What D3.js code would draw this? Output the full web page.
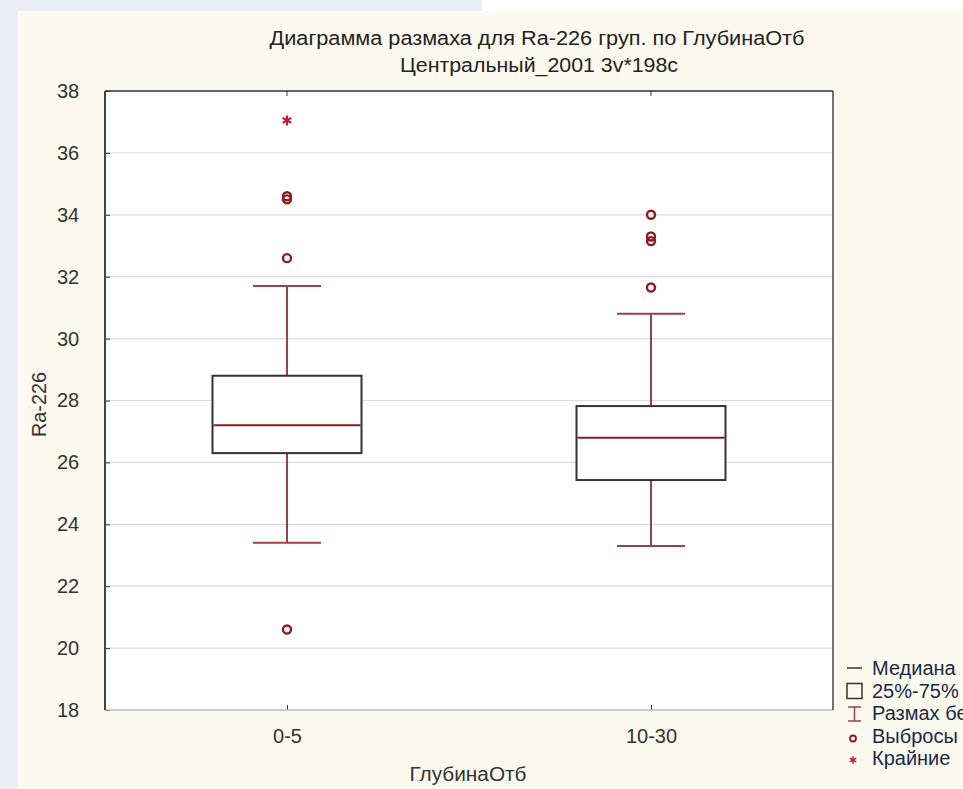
<!DOCTYPE html>
<html>
<head>
<meta charset="utf-8">
<script src="https://cdn.jsdelivr.net/npm/d3@7"></script>
<style>
  body { margin: 0; background: #e9edf4; overflow: hidden; }
  svg text { font-family: "Liberation Sans", Arial, sans-serif; fill: #222; }
</style>
</head>
<body>
<svg id="chart" width="963" height="789"></svg>
<script>
// values
const groups = ["0-5", "10-30"];
const q1 = [26.3, 25.43];
const median = [27.2, 26.8];
const q3 = [28.8, 27.82];
const whiskerLow = [23.4, 23.3];
const whiskerHigh = [31.7, 30.8];
const outliers = [[20.6, 32.6, 34.5, 34.6], [31.65, 33.15, 33.3, 34.0]];
const extremes = [[37.05], []];
const yTicks = [18, 20, 22, 24, 26, 28, 30, 32, 34, 36, 38];
const legendLabels = ["Медиана", "25%-75%", "Размах без выбросов", "Выбросы", "Крайние"];

const W = 963, H = 789;
const plotLeft = 105, plotRight = 833, plotTop = 91, plotBottom = 710;
const darkRed = "#8a1c24";
const whiskerColor = "#9a4048";
const textColor = "#333";

let svg = d3.select("#chart");

// panel
svg.append("rect").attr("x", 482).attr("y", 0).attr("width", W - 482).attr("height", 12).attr("fill", "#ffffff");
svg.append("rect").attr("x", 18).attr("y", 11).attr("width", W - 18).attr("height", H - 11).attr("fill", "#fcf9ef");

let x = d3.scalePoint().domain(groups).range([plotLeft, plotRight]).padding(0.5);
let y = d3.scaleLinear().domain([18, 38]).range([plotBottom, plotTop]);

svg.append("rect")
  .attr("x", plotLeft).attr("y", plotTop)
  .attr("width", plotRight - plotLeft).attr("height", plotBottom - plotTop)
  .attr("fill", "#ffffff");

// grid
svg.append("g")
  .selectAll("line")
  .data(yTicks.slice(1, -1))
  .enter()
  .append("line")
  .attr("x1", plotLeft).attr("x2", plotRight)
  .attr("y1", d => y(d)).attr("y2", d => y(d))
  .style("stroke", "#dcdcdc")
  .style("stroke-width", 1.2);

// y axis
let yAxis = svg.append("g")
  .attr("transform", "translate(" + plotLeft + ",0)")
  .call(d3.axisLeft(y).tickValues(yTicks).tickSize(-5).tickPadding(35).tickFormat(d3.format("d")));
yAxis.select(".domain").remove();
yAxis.selectAll("line").style("stroke", "#333");
yAxis.selectAll("text")
  .style("font-size", "20px")
  .style("fill", textColor)
  .attr("text-anchor", "middle")
  .attr("dx", "-2");

// x axis
let xAxis = svg.append("g")
  .attr("transform", "translate(0," + plotBottom + ")")
  .call(d3.axisBottom(x).tickSize(-5).tickPadding(19));
xAxis.select(".domain").remove();
xAxis.selectAll("line").style("stroke", "#333");
xAxis.selectAll("text").style("font-size", "20px").style("fill", textColor);

// top ticks
svg.append("g")
  .selectAll("line")
  .data(groups)
  .enter()
  .append("line")
  .attr("x1", d => x(d)).attr("x2", d => x(d))
  .attr("y1", plotTop).attr("y2", plotTop + 5)
  .style("stroke", "#333");

// frame
svg.append("line").attr("x1", plotLeft).attr("x2", plotRight).attr("y1", plotBottom).attr("y2", plotBottom)
  .style("stroke", "#bbbbbb").style("stroke-width", 1.5);
svg.append("line").attr("x1", plotLeft).attr("x2", plotRight).attr("y1", plotTop).attr("y2", plotTop)
  .style("stroke", "#333").style("stroke-width", 1.5);
svg.append("line").attr("x1", plotLeft).attr("x2", plotLeft).attr("y1", plotTop).attr("y2", plotBottom)
  .style("stroke", "#444").style("stroke-width", 2);
svg.append("line").attr("x1", plotRight).attr("x2", plotRight).attr("y1", plotTop).attr("y2", plotBottom)
  .style("stroke", "#444").style("stroke-width", 1.5);

// boxes
let boxW = 149, capW = 68;
groups.forEach(function(g, i) {
  let cx = x(g);
  let b = svg.append("g");
  // whiskers
  b.append("line").attr("x1", cx).attr("x2", cx).attr("y1", y(q3[i])).attr("y2", y(whiskerHigh[i]))
    .style("stroke", whiskerColor).style("stroke-width", 2);
  b.append("line").attr("x1", cx).attr("x2", cx).attr("y1", y(q1[i])).attr("y2", y(whiskerLow[i]))
    .style("stroke", whiskerColor).style("stroke-width", 2);
  b.append("line").attr("x1", cx - capW / 2).attr("x2", cx + capW / 2).attr("y1", y(whiskerHigh[i])).attr("y2", y(whiskerHigh[i]))
    .style("stroke", whiskerColor).style("stroke-width", 2);
  b.append("line").attr("x1", cx - capW / 2).attr("x2", cx + capW / 2).attr("y1", y(whiskerLow[i])).attr("y2", y(whiskerLow[i]))
    .style("stroke", whiskerColor).style("stroke-width", 2);
  // box
  b.append("rect")
    .attr("x", cx - boxW / 2).attr("y", y(q3[i]))
    .attr("width", boxW).attr("height", y(q1[i]) - y(q3[i]))
    .attr("fill", "#ffffff")
    .style("stroke", "#333")
    .style("stroke-width", 2);
  b.append("line").attr("x1", cx - boxW / 2 + 1).attr("x2", cx + boxW / 2 - 1).attr("y1", y(median[i])).attr("y2", y(median[i]))
    .style("stroke", darkRed).style("stroke-width", 2);
  // outliers
  b.selectAll(".outlier")
    .data(outliers[i])
    .enter()
    .append("circle")
    .attr("class", "outlier")
    .attr("cx", cx).attr("cy", d => y(d))
    .attr("r", 4)
    .attr("fill", "none")
    .style("stroke", darkRed)
    .style("stroke-width", 2.4);
  // extremes
  b.selectAll(".extreme")
    .data(extremes[i])
    .enter()
    .append("path")
    .attr("class", "extreme")
    .attr("transform", d => "translate(" + cx + "," + y(d) + ")")
    .attr("d", d3.symbol().type(d3.symbolAsterisk).size(70))
    .style("stroke", "#b02030")
    .style("stroke-width", 2.2);
});

// titles
svg.append("text").attr("x", 537).attr("y", 45).attr("text-anchor", "middle")
  .attr("textLength", 535).attr("lengthAdjust", "spacingAndGlyphs")
  .style("font-size", "20px").text("Диаграмма размаха для Ra-226 груп. по ГлубинаОтб");
svg.append("text").attr("x", 539).attr("y", 72).attr("text-anchor", "middle")
  .attr("textLength", 278).attr("lengthAdjust", "spacingAndGlyphs")
  .style("font-size", "20px").text("Центральный_2001 3v*198c");

svg.append("text")
  .attr("transform", "translate(46," + ((plotTop + plotBottom) / 2 + 4) + ") rotate(-90)")
  .attr("text-anchor", "middle")
  .attr("textLength", 65).attr("lengthAdjust", "spacingAndGlyphs")
  .style("font-size", "20px").style("fill", textColor)
  .text("Ra-226");
svg.append("text")
  .attr("x", 468).attr("y", 781)
  .attr("text-anchor", "middle")
  .attr("textLength", 117).attr("lengthAdjust", "spacingAndGlyphs")
  .style("font-size", "20px").style("fill", textColor)
  .text("ГлубинаОтб");

// legend
let lx = 847, ly = 668, lstep = 22.5;
let leg = svg.append("g");
leg.append("line").attr("x1", lx).attr("x2", lx + 15).attr("y1", ly).attr("y2", ly)
  .style("stroke", "#333").style("stroke-width", 1.5);
leg.append("rect").attr("x", lx).attr("y", ly + lstep - 7).attr("width", 15).attr("height", 15)
  .attr("fill", "none").style("stroke", "#333").style("stroke-width", 1.5);
let wy = ly + lstep * 2 + 1;
leg.append("line").attr("x1", lx + 1).attr("x2", lx + 14).attr("y1", wy - 7).attr("y2", wy - 7).style("stroke", whiskerColor).style("stroke-width", 1.5);
leg.append("line").attr("x1", lx + 7.5).attr("x2", lx + 7.5).attr("y1", wy - 7).attr("y2", wy + 7).style("stroke", whiskerColor).style("stroke-width", 1.5);
leg.append("line").attr("x1", lx + 1).attr("x2", lx + 14).attr("y1", wy + 7).attr("y2", wy + 7).style("stroke", whiskerColor).style("stroke-width", 1.5);
leg.append("circle").attr("cx", lx + 6).attr("cy", ly + lstep * 3 + 3).attr("r", 3)
  .attr("fill", "none").style("stroke", darkRed).style("stroke-width", 1.8);
leg.append("path").attr("transform", "translate(" + (lx + 6) + "," + (ly + lstep * 4 + 2) + ")")
  .attr("d", d3.symbol().type(d3.symbolAsterisk).size(40))
  .style("stroke", "#b02030").style("stroke-width", 1.5);
leg.selectAll(".leglabel")
  .data(legendLabels)
  .enter()
  .append("text")
  .attr("class", "leglabel")
  .attr("x", lx + 25)
  .attr("y", (d, i) => ly + i * lstep + 7)
  .style("font-size", "20px")
  .style("fill", "#1a2a44")
  .text(d => d);
</script>
</body>
</html>
